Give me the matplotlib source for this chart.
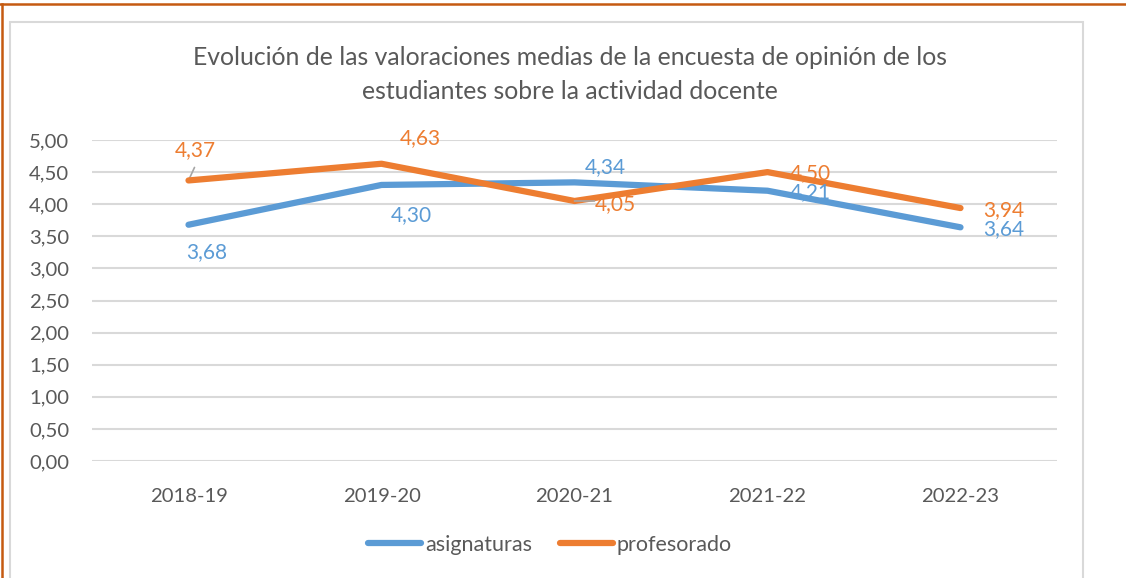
import matplotlib
matplotlib.use("Agg")
import matplotlib.pyplot as plt
from matplotlib.lines import Line2D
from matplotlib.patches import Rectangle

categories = ["2018-19", "2019-20", "2020-21", "2021-22", "2022-23"]
asignaturas = [3.68, 4.30, 4.34, 4.21, 3.64]
profesorado = [4.37, 4.63, 4.05, 4.50, 3.94]
yticks = [0, 0.5, 1.0, 1.5, 2.0, 2.5, 3.0, 3.5, 4.0, 4.5, 5.0]
title = "Evolución de las valoraciones medias de la encuesta de opinión de los\nestudiantes sobre la actividad docente"

BLUE = "#5B9BD5"
ORANGE = "#ED7D31"
GRAY = "#595959"

plt.rcParams['font.family'] = ['Lato', 'DejaVu Sans']

W, H = 1126, 578
fig = plt.figure(figsize=(W / 100, H / 100), dpi=100)

# outer decorations
fig.add_artist(Rectangle((10 / W, -0.01), (1083 - 10) / W, 1 - 22 / H + 0.01,
                         transform=fig.transFigure, fill=False,
                         edgecolor="#d9d9d9", linewidth=1.5))
fig.add_artist(Line2D([0, 1], [1 - 4 / H, 1 - 4 / H], transform=fig.transFigure,
                      color="#C55A11", linewidth=1.8))
fig.add_artist(Line2D([1.5 / W, 1.5 / W], [0, 1 - 4 / H], transform=fig.transFigure,
                      color="#C55A11", linewidth=1.8))

ax = fig.add_axes([92 / W, 1 - 461 / H, (1057 - 92) / W, (461 - 140) / H])
x = list(range(len(categories)))
ax.plot(x, asignaturas, color=BLUE, linewidth=4.5, solid_capstyle='round',
        solid_joinstyle='round', label="asignaturas", zorder=3)
ax.plot(x, profesorado, color=ORANGE, linewidth=4.5, solid_capstyle='round',
        solid_joinstyle='round', label="profesorado", zorder=4)

ax.set_xlim(-0.5, len(categories) - 0.5)
ax.set_ylim(0, 5)
ax.set_yticks(yticks)
ax.set_yticklabels([f"{v:.2f}".replace(".", ",") for v in yticks])
ax.set_xticks(x)
ax.set_xticklabels(categories)
ax.tick_params(axis='both', length=0, labelsize=14.6, colors=GRAY)
ax.tick_params(axis='y', pad=16.5)
ax.tick_params(axis='x', pad=19.5)
for s in ax.spines.values():
    s.set_visible(False)
ax.grid(axis='y', color="#d9d9d9", linewidth=1.5)
ax.set_axisbelow(True)

def fmt(v):
    return f"{v:.2f}".replace(".", ",")

asig_off = [(18, -27), (30, -30), (31, 15), (43, -1), (43, -2)]
prof_off = [(7, 30), (39, 26), (41, -3), (43, -1), (43, -2)]
for i, v in enumerate(asignaturas):
    ax.annotate(fmt(v), (x[i], v), xytext=asig_off[i], textcoords='offset pixels',
                ha='center', va='center', color=BLUE, fontsize=15, zorder=6)
for i, v in enumerate(profesorado):
    ax.annotate(fmt(v), (x[i], v), xytext=prof_off[i], textcoords='offset pixels',
                ha='center', va='center', color=ORANGE, fontsize=15, zorder=6)

# leader lines
ax.annotate("", (x[0], profesorado[0]), xytext=(6, 13), textcoords='offset pixels',
            arrowprops=dict(arrowstyle='-', color="#a6a6a6", linewidth=1.2,
                            shrinkA=0, shrinkB=2))
ax.annotate("", (x[2], profesorado[2]), xytext=(20, 0), textcoords='offset pixels',
            arrowprops=dict(arrowstyle='-', color="#a6a6a6", linewidth=1.2,
                            shrinkA=0, shrinkB=0), zorder=5)

fig.text(570 / W, 1 - 74.5 / H, title, ha='center', va='center', fontsize=17.8,
         color=GRAY, fontweight='normal', linespacing=1.62)

fig.legend(loc='center', bbox_to_anchor=(550 / W, 1 - 545 / H), ncol=2,
           frameon=False, fontsize=15.5, labelcolor=GRAY, handlelength=2.45,
           handletextpad=0.2, columnspacing=1.3)

fig.savefig("out.png", dpi=100)
